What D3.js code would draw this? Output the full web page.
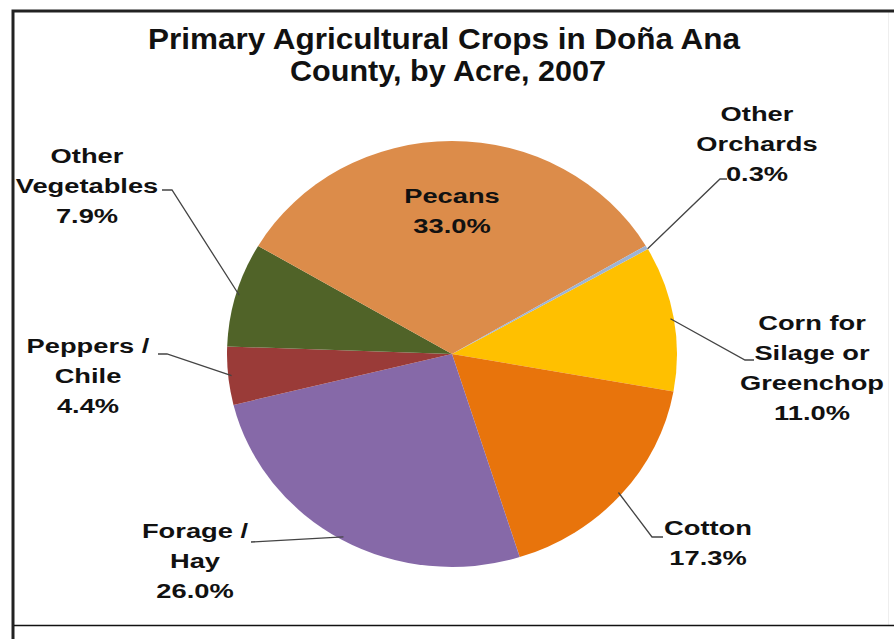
<!DOCTYPE html>
<html>
<head>
<meta charset="utf-8">
<script src="https://cdn.jsdelivr.net/npm/d3@7"></script>
<style>
  body { margin: 0; background: #fff; }
  svg text { font-family: "Liberation Sans", Arial, sans-serif; font-weight: bold; fill: #111; }
</style>
</head>
<body>
<div class="pie-holder"></div>
<script>
// Crop shares, in drawing order (clockwise)
const crops = ["Corn for Silage or Greenchop", "Cotton", "Forage / Hay", "Peppers / Chile", "Other Vegetables", "Pecans", "Other Orchards"];
const shares = [11.0, 17.3, 26.0, 4.4, 7.9, 33.0, 0.3];
const colors = ["#FFC000", "#E8740C", "#8669A8", "#9A3B38", "#506328", "#DC8C4A", "#9DB3D3"];
// label lines as they are broken in the chart
const labelLines = [
  ["Corn for", "Silage or", "Greenchop", "11.0%"],
  ["Cotton", "17.3%"],
  ["Forage /", "Hay", "26.0%"],
  ["Peppers /", "Chile", "4.4%"],
  ["Other", "Vegetables", "7.9%"],
  ["Pecans", "33.0%"],
  ["Other", "Orchards", "0.3%"]
];

const width = 894;
const height = 639;
const cx = 452, cy = 354;
const ry = 213, rx = 225;

const svg = d3.select('.pie-holder').append('svg')
  .attr('width', width)
  .attr('height', height);

// frame
svg.append('line')
  .attr('x1', 888.5).attr('x2', 888.5)
  .attr('y1', 12).attr('y2', 625)
  .attr('stroke', '#eee');
svg.append('path')
  .attr('d', 'M13,' + height + ' V11 H' + width)
  .attr('fill', 'none')
  .attr('stroke', '#222')
  .attr('stroke-width', 3);
svg.append('line')
  .attr('x1', 14).attr('x2', width)
  .attr('y1', 625.5).attr('y2', 625.5)
  .attr('stroke', '#111')
  .attr('stroke-width', 1.5);

// title
const title = svg.append('text')
  .attr('text-anchor', 'middle')
  .style('font-size', '30px');
title.append('tspan').attr('x', 444).attr('y', 49)
  .attr('textLength', 592).attr('lengthAdjust', 'spacingAndGlyphs')
  .text('Primary Agricultural  Crops in Doña Ana');
title.append('tspan').attr('x', 448).attr('y', 81)
  .attr('textLength', 316).attr('lengthAdjust', 'spacingAndGlyphs')
  .text('County, by Acre, 2007');

// pie, slightly wider than tall as in the original
const pie = d3.pie().sort(null).value(d => d)
  .startAngle(60.5 * Math.PI / 180)
  .endAngle(420.5 * Math.PI / 180);
const arcs = pie(shares);
const arc = d3.arc().innerRadius(0).outerRadius(ry);

const pieG = svg.append('g')
  .attr('transform', 'translate(' + cx + ',' + cy + ') scale(' + (rx / ry) + ',1)');
pieG.selectAll('path')
  .data(arcs)
  .join('path')
  .attr('fill', (d, i) => colors[i])
  .attr('d', arc);

// point on the ellipse edge at a slice's middle angle
function edge(d, k) {
  const a = (d.startAngle + d.endAngle) / 2;
  return [cx + rx * k * Math.sin(a), cy - ry * k * Math.cos(a)];
}

// label positions (centre of the text block) and leader elbows
const labelPos = [
  { x: 812, y: 322, elbow: [[745, 360], [754, 360]] },
  { x: 708, y: 527, elbow: [[652, 537], [663, 537]] },
  { x: 195, y: 530, elbow: [[251, 542]] },
  { x: 88, y: 345, elbow: [[167, 354], [158, 354]] },
  { x: 87, y: 155, elbow: [[172, 190], [162, 190]] },
  { x: 452, y: 195, elbow: null },
  { x: 757, y: 113, elbow: [[720, 179], [727, 179]] }
];
const lineGap = 30;

const line = d3.line();
arcs.forEach((d, i) => {
  const p = labelPos[i];
  if (p.elbow) {
    const start = edge(d, 0.985);
    if (i === 6) {
      start[0] = cx + rx * Math.sin(d.endAngle - 0.002);
      start[1] = cy - ry * Math.cos(d.endAngle - 0.002);
    }
    svg.append('path')
      .attr('d', line([start].concat(p.elbow)))
      .attr('fill', 'none')
      .attr('stroke', '#444')
      .attr('stroke-width', 1.3);
  }
  // the labels are set in a wide face: stretch horizontally
  const t = svg.append('text')
    .attr('text-anchor', 'middle')
    .attr('transform', 'translate(' + p.x + ',' + p.y + ') scale(1.3,1)')
    .style('font-size', '21px');
  labelLines[i].forEach((s, j) => {
    t.append('tspan')
      .attr('x', 0)
      .attr('y', j * lineGap + 8)
      .text(s);
  });
});
</script>
</body>
</html>
